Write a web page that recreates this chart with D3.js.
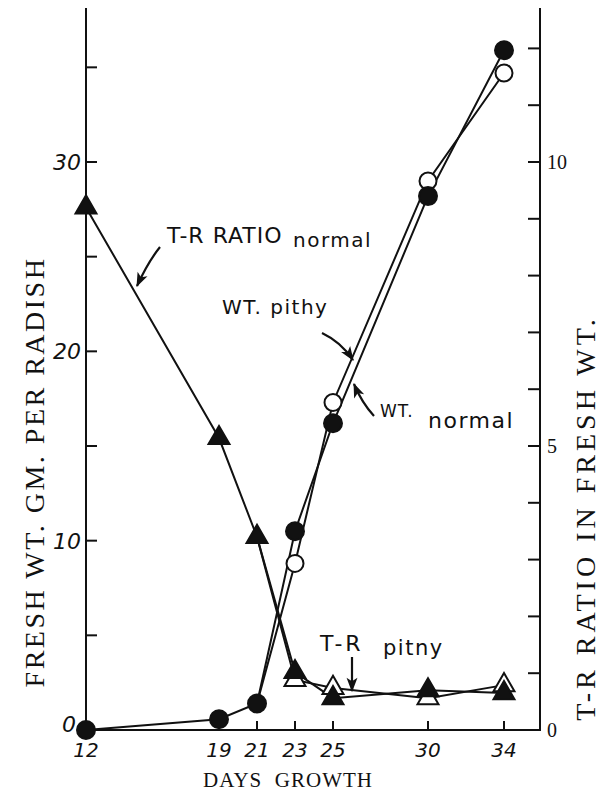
<!DOCTYPE html>
<html>
<head>
<meta charset="utf-8">
<script src="https://cdn.jsdelivr.net/npm/d3@7"></script>
<style>
  body { margin: 0; background: #fff; }
  svg { display: block; }
  .tick-lbl { font-family: "DejaVu Sans", sans-serif; font-style: italic; font-size: 20px; fill: #111; }
  .serif { font-family: "Liberation Serif", "DejaVu Serif", serif; fill: #111; }
  .hand { font-family: "DejaVu Sans", sans-serif; fill: #111; }
</style>
</head>
<body>
<svg id="chart" width="601" height="792"></svg>
<script>
// days of growth
const days = [12, 19, 21, 23, 25, 30, 34];
const dayTicks = [12, 19, 21, 23, 25, 30, 34];

// fresh weight, gm per radish (left axis)
const wtNormal = [0, 0.57, 1.4, 10.5, 16.2, 28.2, 35.9];
const wtPithyDays = [21, 23, 25, 30, 34];
const wtPithy = [1.4, 8.8, 17.3, 29.0, 34.7];

// top-root ratio (right axis)
const trNormal = [9.2, 5.14, 3.4, 1.02, 0.56, 0.70, 0.65];
const trPithyDays = [21, 23, 25, 30, 34];
const trPithy = [3.4, 0.88, 0.74, 0.56, 0.79];

const leftTicks = [0, 5, 10, 15, 20, 25, 30, 35];
const leftLabels = [0, 10, 20, 30];
const rightTicks = d3.range(0, 13);
const rightLabels = [0, 5, 10];

const svg = d3.select("#chart");
const x0 = 86, x1 = 540, yTop = 8, yBot = 730;

const x = d3.scaleLinear().domain([12, 34]).range([86, 504]);
const yL = d3.scaleLinear().domain([0, 30]).range([yBot, 162]);
const yR = d3.scaleLinear().domain([0, 10]).range([yBot, 162]);

const ink = "#111";

// frame: left, right and bottom axes
const axes = svg.append("g").attr("stroke", ink).attr("stroke-width", 2).attr("fill", "none");
axes.append("line").attr("x1", x0).attr("x2", x0).attr("y1", yTop).attr("y2", yBot + 1);
axes.append("line").attr("x1", x1).attr("x2", x1).attr("y1", yTop).attr("y2", yBot + 1);
axes.append("line").attr("x1", x0).attr("x2", x1).attr("y1", yBot).attr("y2", yBot);

// left ticks (inward)
axes.selectAll(".lt").data(leftTicks).enter().append("line")
  .attr("x1", x0).attr("x2", x0 + 11)
  .attr("y1", d => yL(d)).attr("y2", d => yL(d));
svg.selectAll(".ll").data(leftLabels).enter().append("text")
  .attr("class", "tick-lbl")
  .attr("x", d => d === 0 ? x0 - 10 : x0 - 5)
  .attr("y", d => yL(d) + (d === 0 ? 2 : 8))
  .attr("text-anchor", "end")
  .style("font-size", "22px")
  .text(d => d);

// right ticks (inward)
axes.selectAll(".rt").data(rightTicks).enter().append("line")
  .attr("x1", x1 - 12).attr("x2", x1)
  .attr("y1", d => yR(d)).attr("y2", d => yR(d));
svg.selectAll(".rl").data(rightLabels).enter().append("text")
  .attr("class", "serif")
  .attr("x", x1 + 7).attr("y", d => yR(d) + 7)
  .style("font-size", "20px")
  .text(d => d);

// bottom ticks (inward)
axes.selectAll(".bt").data(dayTicks).enter().append("line")
  .attr("x1", d => x(d)).attr("x2", d => x(d))
  .attr("y1", yBot).attr("y2", yBot - 9);
svg.selectAll(".bl").data(dayTicks).enter().append("text")
  .attr("class", "tick-lbl")
  .attr("x", d => x(d)).attr("y", 757)
  .attr("text-anchor", "middle")
  .text(d => d);

// axis titles
svg.append("text").attr("class", "serif")
  .attr("x", 288).attr("y", 787)
  .attr("text-anchor", "middle")
  .style("font-size", "21px")
  .style("letter-spacing", "1px")
  .attr("xml:space", "preserve")
  .text("DAYS  GROWTH");

svg.append("text").attr("class", "serif")
  .attr("transform", "translate(44,472) rotate(-90)")
  .attr("text-anchor", "middle")
  .style("font-size", "28px")
  .style("letter-spacing", "2.5px")
  .text("FRESH WT. GM. PER RADISH");

svg.append("text").attr("class", "serif")
  .attr("transform", "translate(595,518) rotate(-90)")
  .attr("text-anchor", "middle")
  .style("font-size", "28px")
  .style("letter-spacing", "4px")
  .text("T-R RATIO IN FRESH WT.");

// series lines
const lineL = d3.line().x(d => x(d[0])).y(d => yL(d[1]));
const lineR = d3.line().x(d => x(d[0])).y(d => yR(d[1]));
const zip = (a, b) => a.map((d, i) => [d, b[i]]);

const series = [
  { pts: zip(days, wtNormal), line: lineL, y: yL, shape: "circle", filled: true },
  { pts: zip(wtPithyDays, wtPithy), line: lineL, y: yL, shape: "circle", filled: false },
  { pts: zip(days, trNormal), line: lineR, y: yR, shape: "tri", filled: true },
  { pts: zip(trPithyDays, trPithy), line: lineR, y: yR, shape: "tri", filled: false }
];

series.forEach(s => {
  svg.append("path").datum(s.pts)
    .attr("d", s.line)
    .attr("fill", "none").attr("stroke", ink).attr("stroke-width", 2);
});

const tri = d3.symbol().type(d3.symbolTriangle).size(190);
// open markers first, filled on top (the pithy series share their first point)
[series[1], series[3], series[0], series[2]].forEach(s => {
  const pts = s.filled ? s.pts : s.pts.slice(1);
  const g = svg.append("g");
  if (s.shape === "circle") {
    g.selectAll("circle").data(pts).enter().append("circle")
      .attr("cx", d => x(d[0])).attr("cy", d => s.y(d[1]))
      .attr("r", s.filled ? 9 : 8.5)
      .attr("fill", s.filled ? ink : "#fff")
      .attr("stroke", ink).attr("stroke-width", 2);
  } else {
    g.selectAll("path").data(pts).enter().append("path")
      .attr("d", tri)
      .attr("transform", d => `translate(${x(d[0])},${s.y(d[1])})`)
      .attr("fill", s.filled ? ink : "#fff")
      .attr("stroke", ink).attr("stroke-width", 2);
  }
});

// annotations with arrows
svg.append("defs").append("marker")
  .attr("id", "ah").attr("viewBox", "0 0 12 10")
  .attr("refX", 11).attr("refY", 5)
  .attr("markerWidth", 7).attr("markerHeight", 5.5)
  .attr("markerUnits", "strokeWidth")
  .attr("orient", "auto")
  .append("path").attr("d", "M0,0.5 L12,5 L0,9.5 L3,5 Z").attr("fill", ink);

const arrows = [
  "M160,247 Q148,262 137,286",
  "M322,333 Q341,342 353,360",
  "M374,416 Q362,403 354,384",
  "M352,657 L352,691"
];
svg.selectAll(".arr").data(arrows).enter().append("path")
  .attr("d", d => d)
  .attr("fill", "none").attr("stroke", ink).attr("stroke-width", 2.2)
  .attr("marker-end", "url(#ah)");

const notes = [
  { x: 167, y: 243, t: "T-R RATIO", s: 22, ls: 1 },
  { x: 293, y: 247, t: "normal", s: 20, ls: 1.5 },
  { x: 222, y: 314, t: "WT. pithy", s: 20, ls: 1.5 },
  { x: 380, y: 417, t: "WT.", s: 17, ls: 1 },
  { x: 428, y: 428, t: "normal", s: 22, ls: 1.5 },
  { x: 320, y: 651, t: "T-R", s: 22, ls: 3 },
  { x: 383, y: 655, t: "pitny", s: 21, ls: 1.5 }
];
svg.selectAll(".note").data(notes).enter().append("text")
  .attr("class", "hand")
  .attr("x", d => d.x).attr("y", d => d.y)
  .style("font-size", d => d.s + "px")
  .style("letter-spacing", d => d.ls + "px")
  .text(d => d.t);
</script>
</body>
</html>
